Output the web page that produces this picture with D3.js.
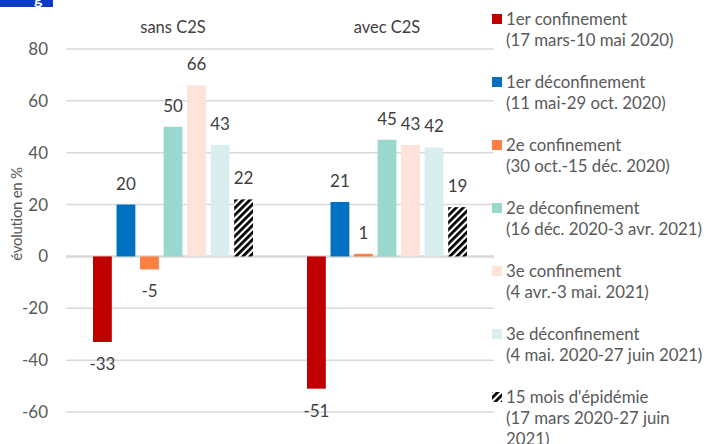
<!DOCTYPE html>
<html>
<head>
<meta charset="utf-8">
<script src="https://cdn.jsdelivr.net/npm/d3@7"></script>
<style>
  body { margin: 0; background: #fff; }
  svg { font-family: Lato, "Open Sans", sans-serif; }
</style>
</head>
<body>
<div id="chart"></div>
<script>
const groups = ['sans C2S', 'avec C2S'];
const periods = ['p1', 'p2', 'p3', 'p4', 'p5', 'p6', 'p7'];
const sansC2S = [-33, 20, -5, 50, 66, 43, 22];
const avecC2S = [-51, 21, 1, 45, 43, 42, 19];
const colors = ['#c00000', '#0070c0', '#ff7f41', '#99d8cc', '#fde3da', '#daeef0', 'url(#hatch)'];
const legendLines = [
  ['1er confinement', '(17 mars-10 mai 2020)'],
  ['1er déconfinement', '(11 mai-29 oct. 2020)'],
  ['2e confinement', '(30 oct.-15 déc. 2020)'],
  ['2e déconfinement', '(16 déc. 2020-3 avr. 2021)'],
  ['3e confinement', '(4 avr.-3 mai. 2021)'],
  ['3e déconfinement', '(4 mai. 2020-27 juin 2021)'],
  ["15 mois d'épidémie", '(17 mars 2020-27 juin', '2021)']
];
const yTicks = [80, 60, 40, 20, 0, -20, -40, -60];

const width = 707, height = 444;
const margin = { top: 49, right: 213, bottom: 32, left: 66 };

const svg = d3.select('#chart').append('svg')
  .attr('width', width)
  .attr('height', height);

// stripes for the 15 month bar
const pat = svg.append('defs').append('pattern')
  .attr('id', 'hatch')
  .attr('patternUnits', 'userSpaceOnUse')
  .attr('width', 5).attr('height', 5)
  .attr('patternTransform', 'rotate(45)');
pat.append('rect').attr('width', 5).attr('height', 5).attr('fill', '#fff');
pat.append('rect').attr('width', 2.8).attr('height', 5).attr('fill', '#000');

// cut-off title box top left
svg.append('rect').attr('x', 0).attr('y', -10).attr('width', 53).attr('height', 17).attr('fill', '#0b3bc4');
svg.append('text').attr('x', 34).attr('y', 4).attr('fill', '#fff')
  .attr('font-size', 16).attr('font-weight', 'bold').text('g');

const x0 = d3.scaleBand()
  .domain(groups)
  .range([margin.left, width - margin.right]);

const x1 = d3.scaleBand()
  .domain(periods)
  .range([27, x0.bandwidth() - 27])
  .paddingInner(0.2)
  .paddingOuter(0);

const y = d3.scaleLinear()
  .domain([-60, 80])
  .range([412, 49]);

// gridlines
svg.append('g')
  .selectAll('line')
  .data(yTicks)
  .join('line')
    .attr('x1', margin.left)
    .attr('x2', width - margin.right)
    .attr('y1', d => y(d))
    .attr('y2', d => y(d))
    .attr('stroke', '#d9d9d9')
    .attr('stroke-width', d => d === 0 ? 2.5 : 1.5);

// y labels
svg.append('g')
  .selectAll('text')
  .data(yTicks)
  .join('text')
    .attr('x', 48)
    .attr('y', d => y(d))
    .attr('dy', '0.35em')
    .attr('text-anchor', 'end')
    .attr('font-size', 17)
    .attr('fill', '#595959')
    .text(d => d);

svg.append('text')
  .attr('transform', 'translate(22,' + 214 + ') rotate(-90)')
  .attr('text-anchor', 'middle')
  .attr('font-size', 15)
  .attr('letter-spacing', -0.3)
  .attr('fill', '#595959')
  .text('évolution en %');

// group names
svg.append('g')
  .selectAll('text')
  .data(groups)
  .join('text')
    .attr('x', d => x0(d) + x0.bandwidth() / 2)
    .attr('y', 27)
    .attr('dy', '0.35em')
    .attr('text-anchor', 'middle')
    .attr('font-size', 16.5)
    .attr('fill', '#404040')
    .text(d => d);

const data = [sansC2S, avecC2S];

groups.forEach((g, gi) => {
  const vals = data[gi];
  const gg = svg.append('g').attr('transform', 'translate(' + x0(g) + ',0)');

  gg.selectAll('rect')
    .data(vals)
    .join('rect')
      .attr('x', (d, i) => x1(periods[i]))
      .attr('y', d => y(Math.max(0, d)))
      .attr('width', x1.bandwidth())
      .attr('height', d => Math.abs(y(d) - y(0)))
      .attr('fill', (d, i) => colors[i]);

  gg.selectAll('text')
    .data(vals)
    .join('text')
      .attr('x', (d, i) => x1(periods[i]) + x1.bandwidth() / 2)
      .attr('y', d => d >= 0 ? y(d) - 21 : y(d) + 22)
      .attr('dy', '0.35em')
      .attr('text-anchor', 'middle')
      .attr('font-size', 17)
      .attr('fill', '#404040')
      .text(d => d);
});

// legend
const leg = svg.append('g').attr('transform', 'translate(492,0)');
legendLines.forEach((lines, i) => {
  const top = 19 + i * 63;
  leg.append('rect')
    .attr('x', 0).attr('y', top - 5)
    .attr('width', 10).attr('height', 10)
    .attr('fill', colors[i]);
  lines.forEach((t, j) => {
    leg.append('text')
      .attr('x', 14)
      .attr('y', top + j * 21)
      .attr('dy', '0.35em')
      .attr('font-size', 16.8)
      .attr('fill', '#595959')
      .text(t);
  });
});
</script>
</body>
</html>
